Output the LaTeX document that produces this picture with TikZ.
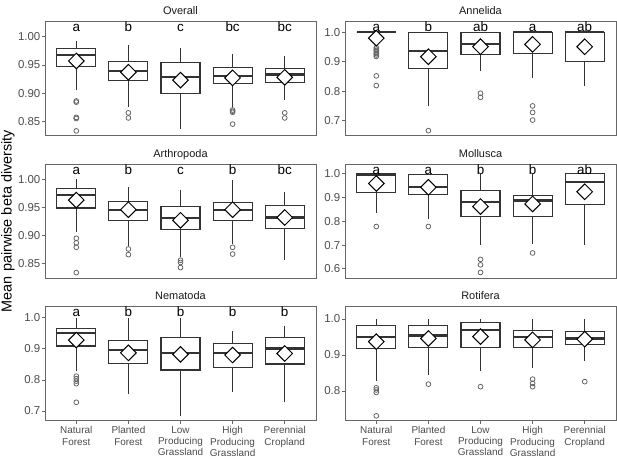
\documentclass[tikz,border=0pt]{standalone}
\usepackage{fontspec}
\setmainfont{Liberation Sans}
\usepackage{tikz}
\usetikzlibrary{shapes.geometric}
% x, lower whisker, q1, median, q3, upper whisker, mean, outliers
\newcommand{\bxplot}[8]{%
  \draw[box line] (#1,#3) -- (#1,#2) (#1,#5) -- (#1,#6);
  \if\relax\detokenize{#8}\relax\else
    \foreach \o in {#8} \node[outlier] at (#1,\o) {};
  \fi
  \draw[box line] (#1-19.5,#3) rectangle (#1+19.5,#5);
  \draw[median line] (#1-19.5,#4) -- (#1+19.5,#4);
  \node[mean node] at (#1,#7) {};}
\newcommand{\yticks}[1]{%
  \foreach \v in {#1} {
    \draw[tick line] (-3,\v) -- (0,\v);
    \node[tick label, anchor=east] at (-4.5,\v) {\v};}}

\begin{document}
\begin{tikzpicture}[x=1bp,y=-1bp,
    box line/.style={line width=1.1bp,draw=black!80},
    median line/.style={line width=2.2bp,draw=black!80},
    mean node/.style={diamond,draw=black,fill=white,line width=1bp,minimum size=16bp,inner sep=0pt},
    outlier/.style={circle,draw=black!60,line width=0.8bp,minimum size=4.8bp,inner sep=0pt},
    panel/.style={rectangle,draw=black!60,line width=0.8bp,minimum width=271bp,minimum height=113.5bp,inner sep=0pt},
    tick line/.style={draw=black!60,line width=0.8bp},
    tick label/.style={font=\fontsize{11.5}{13}\selectfont,text=black!70,inner sep=0pt},
    x label/.style={font=\fontsize{10}{11.2}\selectfont,text=black!70,align=center,inner sep=0pt,anchor=north},
    strip/.style={font=\fontsize{11}{13}\selectfont,text=black!90,inner sep=0pt,anchor=base},
    letter/.style={font=\fontsize{13.5}{15}\selectfont,inner sep=0pt,anchor=base},
    y title/.style={font=\fontsize{14.5}{16}\selectfont,rotate=90,inner sep=0pt}]
  \useasboundingbox (0,0) rectangle (617,459);
  % panels and strip titles
  \node[panel] (pOverall) at (180.5,78.4) {};
  \node[panel] (pAnnelida) at (480.5,78.4) {};
  \node[panel] (pArthropoda) at (180.5,221.2) {};
  \node[panel] (pMollusca) at (480.5,221.2) {};
  \node[panel] (pNematoda) at (180.5,363.6) {};
  \node[panel] (pRotifera) at (480.5,363.6) {};
  \node[strip] (sOverall) at ([yshift=7bp]pOverall.north) {Overall};
  \node[strip] (sAnnelida) at ([yshift=7bp]pAnnelida.north) {Annelida};
  \node[strip] (sArthropoda) at ([yshift=7bp]pArthropoda.north) {Arthropoda};
  \node[strip] (sMollusca) at ([yshift=7bp]pMollusca.north) {Mollusca};
  \node[strip] (sNematoda) at ([yshift=7bp]pNematoda.north) {Nematoda};
  \node[strip] (sRotifera) at ([yshift=7bp]pRotifera.north) {Rotifera};
  \node[y title] (ytitle) at (8,221) {Mean pairwise beta diversity};

  % Overall
  \begin{scope}[shift={(45,600.7)},yscale=-564]
    \yticks{1.00,0.95,0.90,0.85}
    \bxplot{31.3}{0.905}{0.947}{0.967}{0.979}{0.992}{0.957}{0.886,0.884,0.857,0.855,0.833}
    \bxplot{83.4}{0.876}{0.922}{0.939}{0.956}{0.986}{0.937}{0.865,0.856}
    \bxplot{135.5}{0.837}{0.900}{0.929}{0.954}{0.980}{0.923}{}
    \bxplot{187.6}{0.876}{0.917}{0.930}{0.945}{0.969}{0.927}{0.870,0.868,0.866,0.845}
    \bxplot{239.7}{0.887}{0.919}{0.933}{0.943}{0.966}{0.928}{0.865,0.856}
  \end{scope}
  % Annelida
  \begin{scope}[shift={(345,326.8)},yscale=-294.5]
    \yticks{1.0,0.9,0.8,0.7}
    \bxplot{31.3}{0.955}{1.0}{1.0}{1.0}{1.0}{0.980}{0.948,0.943,0.938,0.933,0.928,0.923,0.918,0.852,0.819}
    \bxplot{83.4}{0.750}{0.878}{0.937}{1.0}{1.0}{0.917}{0.666}
    \bxplot{135.5}{0.869}{0.925}{0.959}{1.0}{1.0}{0.951}{0.793,0.779}
    \bxplot{187.6}{0.846}{0.929}{1.0}{1.0}{1.0}{0.959}{0.750,0.728,0.702}
    \bxplot{239.7}{0.818}{0.900}{1.0}{1.0}{1.0}{0.951}{}
  \end{scope}
  % Arthropoda
  \begin{scope}[shift={(45,741.3)},yscale=-562]
    \yticks{1.00,0.95,0.90,0.85}
    \bxplot{31.3}{0.906}{0.949}{0.972}{0.983}{1.000}{0.963}{0.895,0.887,0.879,0.834}
    \bxplot{83.4}{0.882}{0.927}{0.946}{0.961}{0.987}{0.946}{0.876,0.866}
    \bxplot{135.5}{0.862}{0.911}{0.931}{0.951}{0.981}{0.927}{0.856,0.852,0.843}
    \bxplot{187.6}{0.885}{0.927}{0.946}{0.959}{0.999}{0.946}{0.879,0.867}
    \bxplot{239.7}{0.857}{0.913}{0.932}{0.953}{0.978}{0.932}{}
  \end{scope}
  % Mollusca
  \begin{scope}[shift={(345,411.7)},yscale=-238]
    \yticks{1.0,0.9,0.8,0.7,0.6}
    \bxplot{31.3}{0.834}{0.922}{0.997}{1.0}{1.0}{0.959}{0.778}
    \bxplot{83.4}{0.809}{0.914}{0.944}{0.997}{0.997}{0.943}{0.778}
    \bxplot{135.5}{0.700}{0.820}{0.882}{0.931}{0.997}{0.862}{0.640,0.617,0.585}
    \bxplot{187.6}{0.703}{0.822}{0.887}{0.910}{0.997}{0.873}{0.667}
    \bxplot{239.7}{0.700}{0.872}{0.964}{1.0}{1.0}{0.924}{}
  \end{scope}
  % Nematoda
  \begin{scope}[shift={(45,628.7)},yscale=-311]
    \yticks{1.0,0.9,0.8,0.7}
    \bxplot{31.3}{0.829}{0.909}{0.950}{0.966}{0.998}{0.928}{0.812,0.804,0.796,0.788,0.728}
    \bxplot{83.4}{0.755}{0.853}{0.896}{0.928}{0.998}{0.887}{}
    \bxplot{135.5}{0.684}{0.832}{0.887}{0.936}{0.998}{0.882}{}
    \bxplot{187.6}{0.760}{0.840}{0.887}{0.917}{0.958}{0.880}{}
    \bxplot{239.7}{0.730}{0.851}{0.901}{0.936}{0.973}{0.885}{}
  \end{scope}
  % Rotifera
  \begin{scope}[shift={(345,679)},yscale=-360]
    \yticks{1.0,0.9,0.8}
    \bxplot{31.3}{0.829}{0.919}{0.951}{0.981}{1.0}{0.937}{0.809,0.803,0.796,0.731}
    \bxplot{83.4}{0.844}{0.921}{0.954}{0.981}{1.0}{0.946}{0.819}
    \bxplot{135.5}{0.856}{0.921}{0.969}{0.991}{1.0}{0.951}{0.812}
    \bxplot{187.6}{0.863}{0.921}{0.951}{0.969}{1.0}{0.942}{0.833,0.821,0.812}
    \bxplot{239.7}{0.884}{0.928}{0.946}{0.965}{1.0}{0.944}{0.826}
  \end{scope}

  % group letters
  \foreach \l [count=\i from 0] in {a,b,c,bc,bc}
    \node[letter] (lOverall\i) at ({76.3+52.1*\i},31.7) {\l};
  \foreach \l [count=\i from 0] in {a,b,ab,a,ab}
    \node[letter] (lAnnelida\i) at ({376.3+52.1*\i},31.7) {\l};
  \foreach \l [count=\i from 0] in {a,b,c,b,bc}
    \node[letter] (lArthropoda\i) at ({76.3+52.1*\i},174.4) {\l};
  \foreach \l [count=\i from 0] in {a,a,b,b,ab}
    \node[letter] (lMollusca\i) at ({376.3+52.1*\i},174.4) {\l};
  \foreach \l [count=\i from 0] in {a,b,b,b,b}
    \node[letter] (lNematoda\i) at ({76.3+52.1*\i},316.8) {\l};

  % x axis of the bottom row
  \foreach \x in {76.3,376.3}
    \foreach \t [count=\i from 0] in {{Natural\\Forest},{Planted\\Forest},{Low\\Producing\\Grassland},{High\\Producing\\Grassland},{Perennial\\Cropland}} {
      \draw[tick line] ({\x+52.1*\i},420.35) -- ({\x+52.1*\i},423.5);
      \node[x label] (x\x-\i) at ({\x+52.1*\i},426.5) {\t};}
\end{tikzpicture}
\end{document}
